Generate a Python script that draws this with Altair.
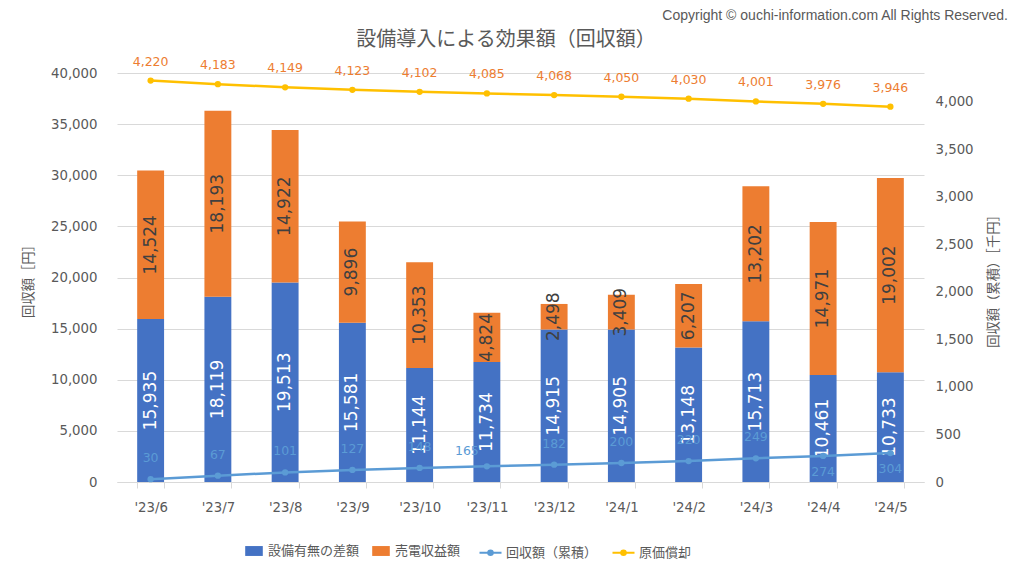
import altair as alt
import pandas as pd

# ---- data ----
months = ["'23/6", "'23/7", "'23/8", "'23/9", "'23/10", "'23/11",
          "'23/12", "'24/1", "'24/2", "'24/3", "'24/4", "'24/5"]
diff_values = [15935, 18119, 19513, 15581, 11144, 11734,
               14915, 14905, 13148, 15713, 10461, 10733]
sales_values = [14524, 18193, 14922, 9896, 10353, 4824,
                2498, 3409, 6207, 13202, 14971, 19002]
cumulative_values = [30, 67, 101, 127, 148, 165, 182, 200, 220, 249, 274, 304]
depreciation_values = [4220, 4183, 4149, 4123, 4102, 4085,
                       4068, 4050, 4030, 4001, 3976, 3946]
bar_series = ["設備有無の差額", "売電収益額"]
bar_colors = ["#4472C4", "#ED7D31"]
line_series = ["回収額（累積）", "原価償却"]
line_colors = ["#5B9BD5", "#FFC000"]
title_text = "設備導入による効果額（回収額）"
copyright_text = "Copyright © ouchi-information.com All Rights Reserved."
left_title = "回収額［円］"
right_title = "回収額（累積）［千円］"

bar_df = pd.DataFrame({
    "month": months * 2,
    "series": [bar_series[0]] * len(months) + [bar_series[1]] * len(months),
    "value": diff_values + sales_values,
})
cum_df = pd.DataFrame({"month": months, "series": line_series[0], "value": cumulative_values})
dep_df = pd.DataFrame({"month": months, "series": line_series[1], "value": depreciation_values})
line_df = pd.concat([cum_df, dep_df], ignore_index=True)

W, H = 807, 409
GREY = "#595959"
NUM_FONT = "DejaVu Sans"
JP_FONT = "Noto Sans CJK JP"

rect_path = "M-0.8,-0.45L0.8,-0.45L0.8,0.45L-0.8,0.45Z"
line_path = "M-1,0L1,0M-0.2,0A0.2,0.2 0 1,0 0.2,0A0.2,0.2 0 1,0 -0.2,0"

legend_common = dict(title=None, orient="none", direction="horizontal",
                     labelFont=JP_FONT, labelFontSize=13, labelColor=GREY,
                     symbolSize=484, labelOffset=3, padding=0)
bar_legend = alt.Legend(legendX=126, legendY=467, symbolType=rect_path,
                        symbolStrokeWidth=0, columnPadding=10, **legend_common)
line_legend = alt.Legend(legendX=361, legendY=467, symbolType=line_path,
                         symbolStrokeWidth=2.2, columnPadding=10, **legend_common)

X = alt.X("month:N", sort=months, title=None,
          scale=alt.Scale(paddingInner=0.6, paddingOuter=0.3),
          axis=alt.Axis(labelAngle=0, labelFont=NUM_FONT, labelFontSize=13.3,
                        labelColor=GREY, domainColor="#D9D9D9", tickColor="#D9D9D9",
                        tickSize=6, tickBand="extent", labelPadding=12, grid=False))

left_scale = alt.Scale(domain=[0, 40000], nice=False)
left_axis = alt.Axis(values=list(range(0, 40001, 5000)), format=",d", title=left_title,
                     labelFont=NUM_FONT, labelFontSize=13.3, labelColor=GREY,
                     domain=False, ticks=False, tickSize=0, labelPadding=20,
                     grid=True, gridColor="#D9D9D9",
                     titleFont=JP_FONT, titleFontSize=13.3, titleColor=GREY,
                     titleFontWeight="normal", titleAngle=270, titleX=-89, titleY=H / 2,
                     titleAlign="center", titleBaseline="middle")
right_scale = alt.Scale(domain=[0, 4300], nice=False)
right_axis = alt.Axis(orient="right", values=list(range(0, 4001, 500)), format=",d",
                      title=right_title, labelFont=NUM_FONT, labelFontSize=13.3,
                      labelColor=GREY, domain=False, ticks=False, tickSize=0,
                      labelPadding=11, grid=False,
                      titleFont=JP_FONT, titleFontSize=13.3, titleColor=GREY,
                      titleFontWeight="normal", titleAngle=270, titleX=69, titleY=H / 2,
                      titleAlign="center", titleBaseline="middle")

stacked = alt.Chart(bar_df).transform_calculate(
    order="datum.series == '%s' ? 0 : 1" % bar_series[0]
).transform_stack(
    stack="value", groupby=["month"], as_=["y0", "y1"],
    sort=[alt.SortField("order", order="ascending")]
)
bars = stacked.mark_bar().encode(
    x=X,
    y=alt.Y("y0:Q", scale=left_scale, axis=left_axis),
    y2="y1:Q",
    color=alt.Color("series:N", scale=alt.Scale(domain=bar_series, range=bar_colors),
                    legend=bar_legend),
)
bar_text = stacked.transform_calculate(mid="(datum.y0 + datum.y1) / 2").mark_text(
    angle=270, font=NUM_FONT, fontSize=17, baseline="middle", align="center"
).encode(
    x=X,
    y=alt.Y("mid:Q", scale=left_scale, axis=left_axis),
    text=alt.Text("value:Q", format=",d"),
    color=alt.condition("datum.series == '%s'" % bar_series[0],
                        alt.value("white"), alt.value("#404040")),
)
left = alt.layer(bars, bar_text)

RY = alt.Y("value:Q", scale=right_scale, axis=right_axis)
line_scale = alt.Scale(domain=line_series, range=line_colors)
lines = alt.Chart(line_df).mark_line(strokeWidth=2.5).encode(
    x=X, y=RY, stroke=alt.Stroke("series:N", scale=line_scale, legend=line_legend))
points = alt.Chart(line_df).mark_point(filled=True, size=40, opacity=1).encode(
    x=X, y=RY, fill=alt.Fill("series:N", scale=line_scale, legend=None))

labels_below = ["'24/4", "'24/5"]
labels_left = ["'23/11"]
cum_base = alt.Chart(cum_df)
cum_txt_kw = dict(font=NUM_FONT, fontSize=12.5, color="#5B9BD5", baseline="middle")
cum_above = cum_base.transform_filter(
    {"not": alt.FieldOneOfPredicate(field="month", oneOf=labels_below + labels_left)}
).mark_text(dy=-21, **cum_txt_kw).encode(x=X, y=RY, text=alt.Text("value:Q", format=",d"))
cum_below = cum_base.transform_filter(
    alt.FieldOneOfPredicate(field="month", oneOf=labels_below)
).mark_text(dy=16, **cum_txt_kw).encode(x=X, y=RY, text=alt.Text("value:Q", format=",d"))
cum_left = cum_base.transform_filter(
    alt.FieldOneOfPredicate(field="month", oneOf=labels_left)
).mark_text(dy=-15, dx=-20, **cum_txt_kw).encode(x=X, y=RY, text=alt.Text("value:Q", format=",d"))
dep_txt = alt.Chart(dep_df).mark_text(
    dy=-19, font=NUM_FONT, fontSize=12.5, color="#ED7D31", baseline="middle"
).encode(x=X, y=RY, text=alt.Text("value:Q", format=",d"))
right = alt.layer(lines, points, cum_above, cum_below, cum_left, dep_txt)

title_mark = alt.Chart(pd.DataFrame({"t": [title_text]})).mark_text(
    font=JP_FONT, fontSize=20, color=GREY, align="center", baseline="middle"
).encode(text="t:N", x=alt.value(389), y=alt.value(-33))
copyright_mark = alt.Chart(pd.DataFrame({"t": [copyright_text]})).mark_text(
    font="Liberation Sans", fontSize=14, color=GREY, align="right", baseline="middle"
).encode(text="t:N", x=alt.value(891), y=alt.value(-57))

chart = alt.layer(left, right, title_mark, copyright_mark).resolve_scale(
    y="independent"
).properties(
    width=W, height=H,
    autosize=alt.AutoSizeParams(type="none"),
    padding={"left": 109, "top": 65, "right": 92, "bottom": 84},
    background="white",
).configure_view(stroke=None)

chart.save("out.html", embed_options={"renderer": "svg", "actions": False})
